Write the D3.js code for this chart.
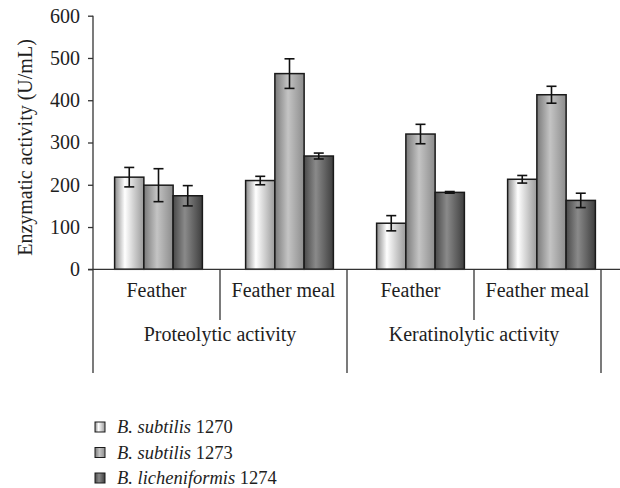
<!DOCTYPE html>
<html>
<head>
<meta charset="utf-8">
<script src="https://cdn.jsdelivr.net/npm/d3@7"></script>
<style>
  html, body { margin: 0; padding: 0; background: #fff; }
  svg { display: block; font-family: "Liberation Serif", "DejaVu Serif", serif; }
</style>
</head>
<body>
<div id="chart"></div>
<script>
"use strict";

// Chart values.
const activities = ["Proteolytic activity", "Keratinolytic activity"];
const substrates = ["Feather", "Feather meal"];
const seriesNames = ["1270", "1273", "1274"];
const seriesSpecies = ["B. subtilis", "B. subtilis", "B. licheniformis"];
const yTicks = [0, 100, 200, 300, 400, 500, 600];

const values1270 = [218, 210, 109, 213];
const values1273 = [199, 463, 320, 413];
const values1274 = [174, 268, 182, 163];
const errors1270 = [23, 10, 18, 9];
const errors1273 = [39, 35, 23, 20];
const errors1274 = [24, 7, 2, 17];

const chartWidth = 620, chartHeight = 488;
const plotLeft = 93, plotTop = 15.7, zeroY = 269.3;

const groupKeys = [];
activities.forEach(a => substrates.forEach(s => groupKeys.push(a + "|" + s)));

const allValues = [values1270, values1273, values1274];
const allErrors = [errors1270, errors1273, errors1274];

const svg = d3.select("#chart").append("svg")
    .attr("width", chartWidth)
    .attr("height", chartHeight);

// Gradients for the bar fills.
const stops = [
    [["0%", "#8a8a8a"], ["35%", "#ffffff"], ["100%", "#9a9a9a"]],
    [["0%", "#7a7a7a"], ["45%", "#c4c4c4"], ["100%", "#8c8c8c"]],
    [["0%", "#4a4a4a"], ["40%", "#8a8a8a"], ["100%", "#3e3e3e"]]
];
const defs = svg.append("defs");
stops.forEach((st, i) => {
    const g = defs.append("linearGradient")
        .attr("id", "grad" + i)
        .attr("x1", "0%").attr("x2", "100%")
        .attr("y1", "0%").attr("y2", "0%");
    st.forEach(s => g.append("stop").attr("offset", s[0]).attr("stop-color", s[1]));
});

const y = d3.scaleLinear().domain([0, 600]).range([zeroY, plotTop]);

// Bars sit on a slightly wider band than the category labels (as in the original).
const x0 = d3.scaleBand().domain(groupKeys).range([plotLeft, 617]).paddingInner(0.33).paddingOuter(0.165);
const x1 = d3.scaleBand().domain(seriesNames).range([0, x0.bandwidth()]);

// Label bands
const xSub = d3.scaleBand().domain(groupKeys).range([plotLeft, 601]);
const xMain = d3.scaleBand().domain(activities).range([plotLeft, 601]);

const axisColor = "#333";
const textColor = "#1e1e1e";

// Y axis
const yAxis = d3.axisLeft(y).tickValues(yTicks).tickSize(5).tickPadding(8);
const gy = svg.append("g")
    .attr("transform", `translate(${plotLeft},0)`)
    .call(yAxis);
gy.select(".domain").remove();
gy.selectAll(".tick line").attr("stroke", axisColor).attr("stroke-width", 1.3);
gy.selectAll(".tick text")
    .attr("font-size", 20)
    .attr("fill", textColor)
    .attr("font-family", "Liberation Serif, serif");

svg.append("line")
    .attr("x1", plotLeft).attr("x2", plotLeft)
    .attr("y1", y(600)).attr("y2", 373)
    .attr("stroke", axisColor).attr("stroke-width", 1.3);

// Y title
svg.append("text")
    .attr("transform", "translate(32,147.5) rotate(-90)")
    .attr("text-anchor", "middle")
    .attr("font-size", 20)
    .attr("fill", textColor)
    .text("Enzymatic activity (U/mL)");

// Bars
const groupsG = svg.append("g");
groupKeys.forEach((key, gi) => {
    seriesNames.forEach((sn, si) => {
        const v = allValues[si][gi];
        const e = allErrors[si][gi];
        const bx = x0(key) + x1(sn);
        const cx = bx + x1.bandwidth() / 2;
        groupsG.append("rect")
            .attr("x", bx)
            .attr("y", y(v))
            .attr("width", x1.bandwidth())
            .attr("height", zeroY - y(v))
            .attr("fill", `url(#grad${si})`)
            .attr("stroke", "#1a1a1a")
            .attr("stroke-width", 1.5);
        const eg = groupsG.append("g")
            .attr("stroke", "#111")
            .attr("stroke-width", 1.6);
        eg.append("line").attr("x1", cx).attr("x2", cx).attr("y1", y(v + e)).attr("y2", y(v - e));
        eg.append("line").attr("x1", cx - 5).attr("x2", cx + 5).attr("y1", y(v + e)).attr("y2", y(v + e));
        eg.append("line").attr("x1", cx - 5).attr("x2", cx + 5).attr("y1", y(v - e)).attr("y2", y(v - e));
    });
});

// X axis line
svg.append("line")
    .attr("x1", plotLeft - 5).attr("x2", chartWidth)
    .attr("y1", zeroY).attr("y2", zeroY)
    .attr("stroke", axisColor).attr("stroke-width", 1.3);

// Multi-level category labels
groupKeys.forEach((key, gi) => {
    const sub = key.split("|")[1];
    svg.append("text")
        .attr("x", xSub(key) + xSub.bandwidth() / 2)
        .attr("y", 297)
        .attr("text-anchor", "middle")
        .attr("font-size", 20)
        .attr("fill", textColor)
        .text(sub);
    if (gi % 2 === 1) {
        svg.append("line")
            .attr("x1", xSub(key)).attr("x2", xSub(key))
            .attr("y1", zeroY).attr("y2", 320)
            .attr("stroke", axisColor).attr("stroke-width", 1.3);
    }
});
activities.forEach(a => {
    svg.append("text")
        .attr("x", xMain(a) + xMain.bandwidth() / 2)
        .attr("y", 341)
        .attr("text-anchor", "middle")
        .attr("font-size", 20)
        .attr("fill", textColor)
        .text(a);
    const xe = xMain(a) + xMain.bandwidth();
    svg.append("line")
        .attr("x1", xe).attr("x2", xe)
        .attr("y1", zeroY).attr("y2", 373)
        .attr("stroke", axisColor).attr("stroke-width", 1.3);
});

// Legend
const legend = svg.append("g").attr("transform", "translate(95,422)");
seriesNames.forEach((sn, i) => {
    const row = legend.append("g").attr("transform", `translate(0,${i * 25.5})`);
    row.append("rect")
        .attr("x", 0).attr("y", 0)
        .attr("width", 10).attr("height", 10)
        .attr("fill", `url(#grad${i})`)
        .attr("stroke", "#1a1a1a")
        .attr("stroke-width", 1);
    const t = row.append("text")
        .attr("x", 22).attr("y", 11)
        .attr("font-size", 18.5)
        .attr("fill", textColor);
    t.append("tspan").attr("font-style", "italic").text(seriesSpecies[i]);
    t.append("tspan").text(" " + sn);
});
</script>
</body>
</html>
